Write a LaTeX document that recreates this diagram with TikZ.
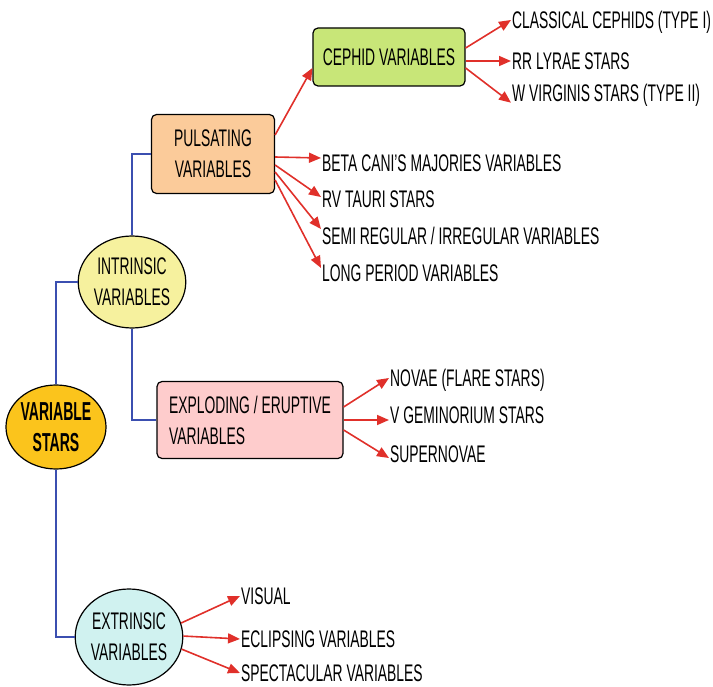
\documentclass[tikz,border=0pt]{standalone}
\usepackage{fontspec}
\setmainfont{Liberation Sans}[FakeStretch=0.578]
\newfontfamily\negrita{Liberation Sans}[FakeStretch=0.54]
\usetikzlibrary{shapes.geometric,arrows.meta}

\definecolor{dorado}{HTML}{FBC41C}
\definecolor{amarillo}{HTML}{F6F19E}
\definecolor{celeste}{HTML}{D0F2F0}
\definecolor{naranja}{HTML}{FBCB9A}
\definecolor{verde}{HTML}{C8E678}
\definecolor{rosa}{HTML}{FECCCC}
\definecolor{azul}{HTML}{3B4FB0}
\definecolor{rojo}{HTML}{E0302A}

\tikzstyle{caja}= [rectangle,rounded corners=5pt,draw,black,line width=1.2pt,inner sep=0pt,align=center,font=\fontsize{24}{31}\selectfont]
\tikzstyle{ovalo}= [ellipse,draw,black,line width=1.2pt,inner sep=0pt,align=center,font=\fontsize{24}{31}\selectfont]
\tikzstyle{hoja}= [anchor=west,inner sep=1pt,text height=17pt,text depth=0pt,font=\fontsize{24}{31}\selectfont]
\tikzstyle{rama}= [azul,line width=1.4pt]
\tikzstyle{flecha}= [rojo,line width=1.6pt,-{Triangle[length=12pt,width=10pt]}]

\begin{document}
\begin{tikzpicture}[x=1pt,y=-1pt]
		\useasboundingbox (0,0) rectangle (713,687);

		\node (vs) at (56,427) [ovalo,fill=dorado,minimum width=98pt,minimum height=84pt,font=\fontsize{26}{31}\selectfont\negrita\bfseries] {VARIABLE\\STARS};
		\node (intr) at (132,282) [ovalo,fill=amarillo,minimum width=106pt,minimum height=92pt] {INTRINSIC\\VARIABLES};
		\node (extr) at (129,637) [ovalo,fill=celeste,minimum width=101pt,minimum height=96pt] {EXTRINSIC\\VARIABLES};

		\node (puls) at (213,154) [caja,fill=naranja,minimum width=123pt,minimum height=79pt] {PULSATING\\VARIABLES};
		\node (ceph) at (389,57) [caja,fill=verde,minimum width=152pt,minimum height=58pt] {CEPHID VARIABLES};
		\node (expl) at (250,420) [caja,fill=rosa,minimum width=186pt,minimum height=77pt,align=left] {EXPLODING / ERUPTIVE\\VARIABLES};

		\node (c1) at (511,20) [hoja] {CLASSICAL CEPHIDS (TYPE I)};
		\node (c2) at (511,61) [hoja] {RR LYRAE STARS};
		\node (c3) at (511,93) [hoja] {W VIRGINIS STARS (TYPE II)};

		\node (p1) at (321,163) [hoja] {BETA CANI'S MAJORIES VARIABLES};
		\node (p2) at (321,199) [hoja] {RV TAURI STARS};
		\node (p3) at (321,236) [hoja] {SEMI REGULAR / IRREGULAR VARIABLES};
		\node (p4) at (321,273) [hoja] {LONG PERIOD VARIABLES};

		\node (e1) at (389,378) [hoja] {NOVAE (FLARE STARS)};
		\node (e2) at (389,415) [hoja] {V GEMINORIUM STARS};
		\node (e3) at (389,454) [hoja] {SUPERNOVAE};

		\node (x1) at (240,596) [hoja] {VISUAL};
		\node (x2) at (240,639) [hoja] {ECLIPSING VARIABLES};
		\node (x3) at (240,673) [hoja] {SPECTACULAR VARIABLES};

		% ramas azules
		\draw[rama] (vs.north) |- (intr.west);
		\draw[rama] (vs.south) |- (extr.west);
		\draw[rama] (intr.north) |- (puls.west);
		\draw[rama] (intr.south) |- (expl.west);

		% flechas
		\draw[flecha] ([yshift=19pt]puls.east) -- ([yshift=-11pt]ceph.west);
		\draw[flecha] ([yshift=9pt]ceph.east) -- (c1.west);
		\draw[flecha] ([yshift=-4pt]ceph.east) -- (c2.west);
		\draw[flecha] ([yshift=-11pt]ceph.east) -- (c3.south west);

		\draw[flecha] ([yshift=-3pt]puls.east) -- ([yshift=5pt]p1.west);
		\draw[flecha] ([yshift=-11pt]puls.east) -- ([yshift=2pt]p2.west);
		\draw[flecha] ([yshift=-18pt]puls.east) -- ([yshift=7pt]p3.west);
		\draw[flecha] ([yshift=-26pt]puls.east) -- ([yshift=5pt]p4.west);

		\draw[flecha] ([yshift=13pt]expl.east) -- (e1.west);
		\draw[flecha] (expl.east) -- ([yshift=-5pt]e2.west);
		\draw[flecha] ([yshift=-10pt]expl.east) -- ([yshift=-4pt]e3.west);

		\draw[flecha] (extr.15) -- (x1.west);
		\draw[flecha] (extr.1) -- (x2.west);
		\draw[flecha] (extr.-13) -- (x3.west);

	\end{tikzpicture}
\end{document}
